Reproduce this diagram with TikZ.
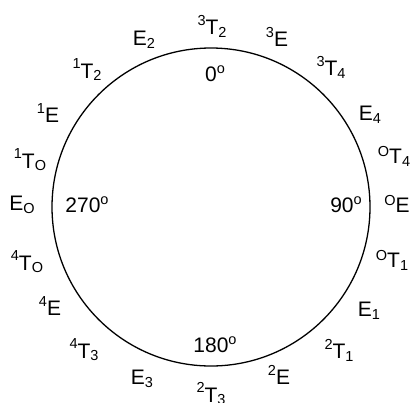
\documentclass[tikz,border=0pt]{standalone}
\usepackage{fontspec}
\setmainfont{Liberation Sans}
\newcommand{\supd}[1]{\raisebox{9.5pt}{\fontsize{14.5}{14.5}\selectfont #1}}
\newcommand{\supo}[1]{\raisebox{7.5pt}{\fontsize{14.5}{14.5}\selectfont #1}}
\newcommand{\subd}[1]{\raisebox{-2.5pt}{\fontsize{14.5}{14.5}\selectfont #1}}
\newcommand{\degsign}{\raisebox{8pt}{\fontsize{14.5}{14.5}\selectfont o}}
\begin{document}
\begin{tikzpicture}[x=1pt,y=-1pt,
  lab/.style={font=\fontsize{21}{21}\selectfont, inner sep=0pt},
  ringstyle/.style={circle, draw, line width=1.3pt, inner sep=0pt, minimum size=318pt}]
\useasboundingbox (0,0) rectangle (412,402);
\node[ringstyle] (ring) at (211,207) {};
% outer labels
\node[lab] (t32) at (212,26)  {\supd{3}T\subd{2}};
\node[lab] (e3s) at (277,37)  {\supd{3}E};
\node[lab] (t34) at (331,67)  {\supd{3}T\subd{4}};
\node[lab] (e4)  at (370,115) {E\subd{4}};
\node[lab] (ot4) at (394,156) {\supo{O}T\subd{4}};
\node[lab] (oe)  at (397,204) {\supo{O}E};
\node[lab] (ot1) at (392,260) {\supo{O}T\subd{1}};
\node[lab] (e1)  at (369,311) {E\subd{1}};
\node[lab] (t21) at (339,350) {\supd{2}T\subd{1}};
\node[lab] (e2s) at (279,375) {\supd{2}E};
\node[lab] (t23) at (211,394) {\supd{2}T\subd{3}};
\node[lab] (e3)  at (142,379) {E\subd{3}};
\node[lab] (t43) at (84,350)  {\supd{4}T\subd{3}};
\node[lab] (e4s) at (50,306)  {\supd{4}E};
\node[lab] (t4o) at (27,262)  {\supd{4}T\subd{O}};
\node[lab] (eo)  at (22,205)  {E\subd{O}};
\node[lab] (t1o) at (30,160)  {\supd{1}T\subd{O}};
\node[lab] (e1s) at (48,113)  {\supd{1}E};
\node[lab] (t12) at (87,70)   {\supd{1}T\subd{2}};
\node[lab] (e2)  at (144,40)  {E\subd{2}};
% inner angle labels
\node[lab] (a0)   at (215,74)  {0\degsign};
\node[lab] (a90)  at (346,205) {90\degsign};
\node[lab] (a180) at (215,345) {180\degsign};
\node[lab] (a270) at (87,205)  {270\degsign};
\end{tikzpicture}
\end{document}
